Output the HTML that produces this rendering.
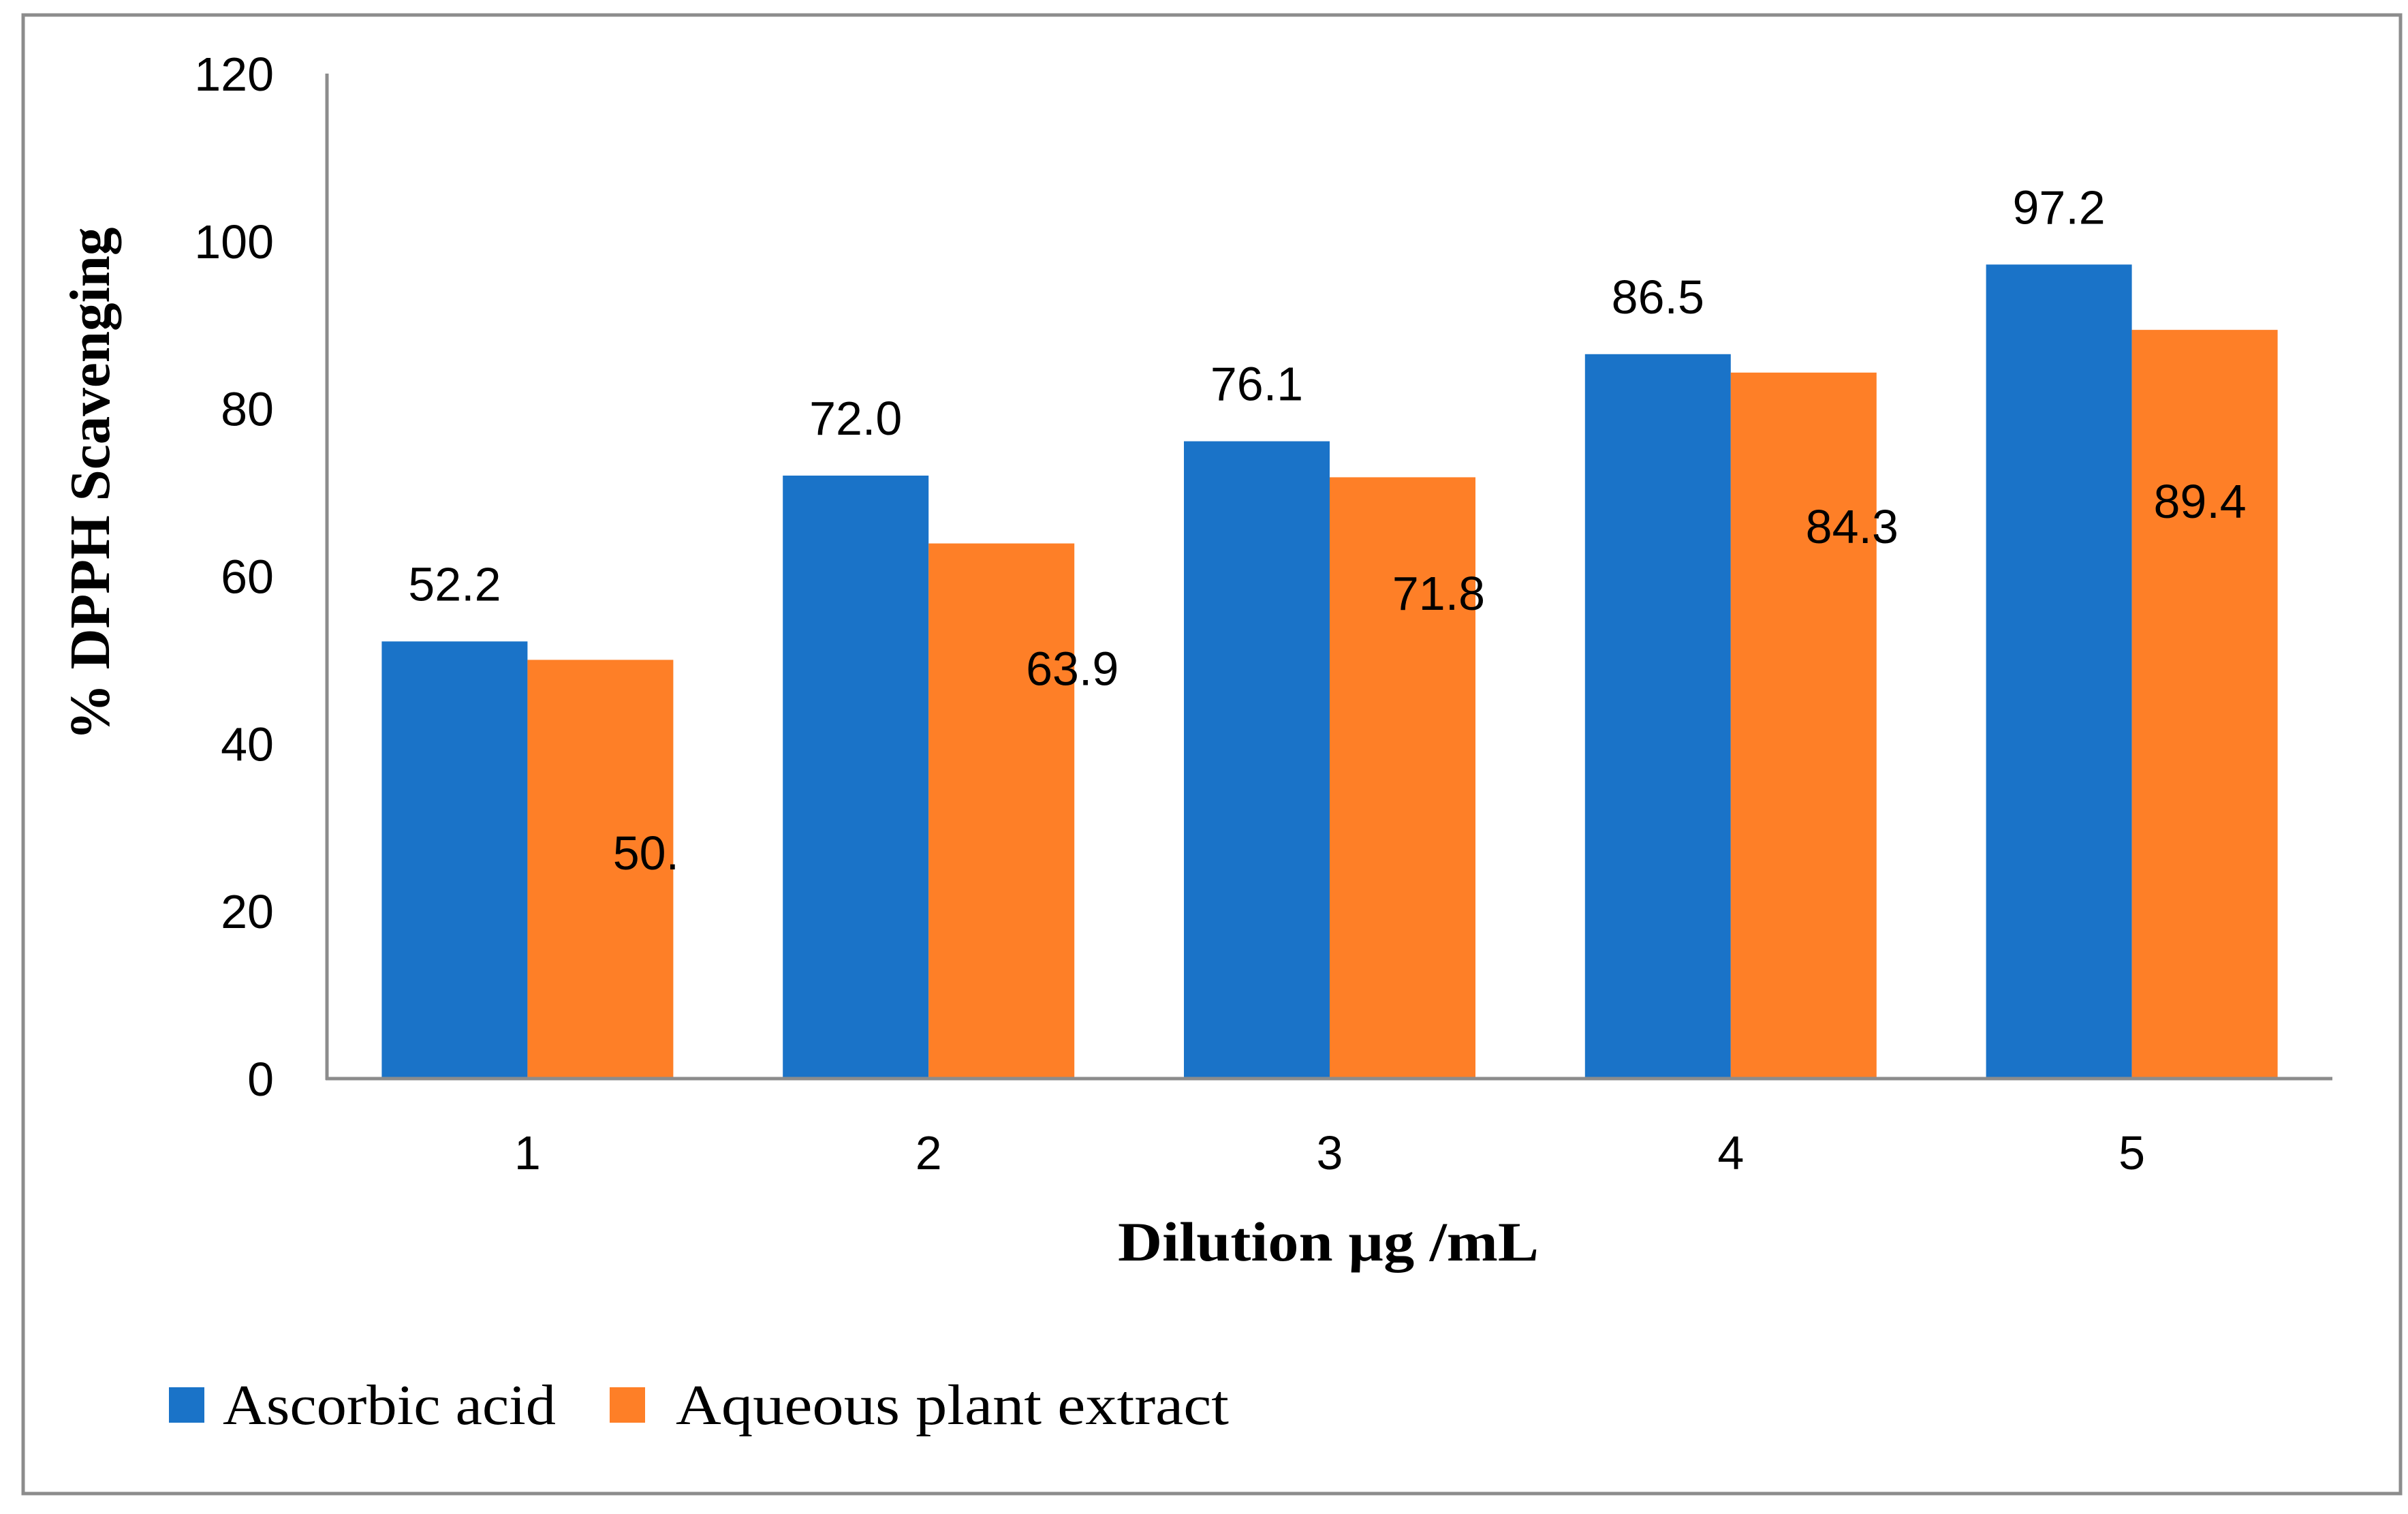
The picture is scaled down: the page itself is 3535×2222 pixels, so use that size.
<!DOCTYPE html>
<html><head><meta charset="utf-8"><style>html,body{margin:0;padding:0;background:#fff}svg{display:block}</style></head>
<body>
<svg id="chart" width="3535" height="2222" xmlns="http://www.w3.org/2000/svg">
<rect x="34" y="22" width="3490" height="2170" fill="#fff" stroke="#8c8c8c" stroke-width="5"/>
<g id="plot"></g>
<text transform="translate(160,710) rotate(-90)" text-anchor="middle" font-family="Liberation Serif, serif" font-weight="bold" font-size="84" textLength="753" lengthAdjust="spacingAndGlyphs">% DPPH Scavenging</text>
<text x="1950" y="1850" text-anchor="middle" font-family="Liberation Serif, serif" font-weight="bold" font-size="82" textLength="618" lengthAdjust="spacingAndGlyphs">Dilution µg /mL</text>
<g>
<rect x="248" y="2036" width="52" height="52" fill="#1a73c8"/>
<text x="327" y="2090" font-family="Liberation Serif, serif" font-size="84" textLength="489" lengthAdjust="spacingAndGlyphs">Ascorbic acid</text>
<rect x="895" y="2036" width="52" height="52" fill="#fe7f27"/>
<text x="992" y="2090" font-family="Liberation Serif, serif" font-size="84" textLength="812" lengthAdjust="spacingAndGlyphs">Aqueous plant extract</text>
</g>
</svg>
<script>
const categories = ["1","2","3","4","5"];
const ascorbic = [52.2, 72.0, 76.1, 86.5, 97.2];
const extract = [50.0, 63.9, 71.8, 84.3, 89.4];
const ascorbicLabels = ["52.2","72.0","76.1","86.5","97.2"];
const extractLabels = ["50.","63.9","71.8","84.3","89.4"];
const extractLabelLevel = [27, 49, 58, 66, 69];
const extractLabelShift = [67, 104, 53, 71, -7];
const yTicks = [0,20,40,60,80,100,120];

const NS="http://www.w3.org/2000/svg";
const g=document.getElementById('plot');
const x0=480, x1=3424, yBase=1583, yTop=108, yMax=120;
const y=v=>yBase-(v/yMax)*(yBase-yTop);
const gw=(x1-x0)/categories.length;
const bw=214;
function mk(tag,attrs,txt){const e=document.createElementNS(NS,tag);for(const k in attrs)e.setAttribute(k,attrs[k]);if(txt!==undefined)e.textContent=txt;g.appendChild(e);return e;}
const font="Liberation Sans, sans-serif";
yTicks.forEach(t=>{
  const e=mk('text',{x:402,y:y(t)+25,'text-anchor':'end','font-family':font,'font-size':70},String(t));
  
  
});
categories.forEach((c,i)=>{
  const cx=x0+gw*(i+0.5);
  const b1=mk('rect',{x:cx-bw,y:y(ascorbic[i]),width:bw,height:yBase-y(ascorbic[i]),fill:'#1a73c8'});
  
  
  const b2=mk('rect',{x:cx,y:y(extract[i]),width:bw,height:yBase-y(extract[i]),fill:'#fe7f27'});
  
  
  const l1=mk('text',{x:cx-bw/2,y:y(ascorbic[i])-60,'text-anchor':'middle','font-family':font,'font-size':70},ascorbicLabels[i]);
  
  
  const l2=mk('text',{x:cx+bw/2+extractLabelShift[i],y:y(extractLabelLevel[i])+25,'text-anchor':'middle','font-family':font,'font-size':70},extractLabels[i]);
  
  
  const xl=mk('text',{x:cx,y:1716,'text-anchor':'middle','font-family':font,'font-size':70},c);
  
  
});
const ya=mk('line',{x1:x0,y1:yTop,x2:x0,y2:yBase+2,stroke:'#8c8c8c','stroke-width':5});


const xa=mk('line',{x1:x0-2,y1:yBase,x2:x1,y2:yBase,stroke:'#8c8c8c','stroke-width':5});


</script>
</body></html>
